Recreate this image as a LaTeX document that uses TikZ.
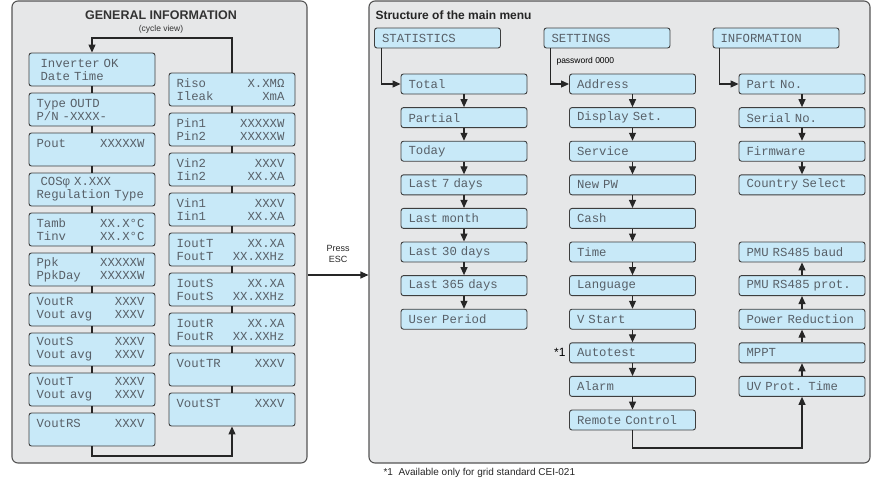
\documentclass[tikz,border=0pt]{standalone}
\usepackage{fontspec}
\setmainfont{Liberation Sans}
\setmonofont{Liberation Mono}
\usepackage {tikz}
\usetikzlibrary {positioning}
\usetikzlibrary{arrows.meta}
\definecolor{lcdblue}{RGB}{200,233,248}
\definecolor{lcdframe}{RGB}{62,62,62}
\definecolor{lcdtext}{RGB}{88,96,104}
\definecolor{panelgray}{RGB}{230,231,232}
\definecolor{panelframe}{RGB}{85,85,85}
\newcommand{\lcdfont}{\fontsize{12.3}{13}\selectfont\ttfamily}
\newcommand{\LR}[2]{\makebox[108pt][l]{#1\hfill#2}}
\tikzset{
    panel/.style = {rectangle,draw=panelframe,fill=panelgray,line width=1.1pt,rounded corners=6pt},
    lcd/.style = {rectangle,draw=lcdframe,fill=lcdblue,line width=0.9pt,rounded corners=2.5pt,
        minimum width=126pt,inner sep=0pt,text width=111pt,align=left,font=\lcdfont,text=lcdtext},
    display/.style = {lcd,minimum height=33pt},
    menuitem/.style = {lcd,minimum height=20pt},
    link/.style = {draw=black!85,line width=1.1pt},
    flow/.style = {link,-{Triangle[length=8pt,width=7pt]}}}
\begin{document}
\begin{tikzpicture}[x=1pt,y=-1pt]
        \useasboundingbox (0,0) rectangle (877,477);
        % panels
        \node[panel,minimum width=295pt,minimum height=462pt] (gen) at (159.5,232) {};
        \node[panel,minimum width=501pt,minimum height=462pt] (menu) at (619.5,232) {};
        \node[font=\fontsize{12.5}{14}\bfseries\selectfont,text=black!80] (gentitle) at (161,15) {GENERAL INFORMATION};
        \node[font=\fontsize{8.5}{10}\selectfont,text=black!80] (cycle) at (161,29) {(cycle view)};
        \node[font=\fontsize{12}{14}\bfseries\selectfont,text=black!85,anchor=west] (menutitle) at (372,15) {Structure of the main menu};
        % general information, cycle view
        \path (92,69.5) node[display] (L1) {~Inverter OK\\~Date Time}
        ++ (0,40) node[display] (L2) {Type OUTD\\P/N -XXXX-}
        ++ (0,40) node[display] (L3) {\LR{Pout}{XXXXXW}\\~}
        ++ (0,40) node[display] (L4) {~COSφ X.XXX\\Regulation Type}
        ++ (0,40) node[display] (L5) {\LR{Tamb}{XX.X°C}\\\LR{Tinv}{XX.X°C}}
        ++ (0,40) node[display] (L6) {\LR{Ppk}{XXXXXW}\\\LR{PpkDay}{XXXXXW}}
        ++ (0,40) node[display] (L7) {\LR{VoutR}{XXXV}\\\LR{Vout avg}{XXXV}}
        ++ (0,40) node[display] (L8) {\LR{VoutS}{XXXV}\\\LR{Vout avg}{XXXV}}
        ++ (0,40) node[display] (L9) {\LR{VoutT}{XXXV}\\\LR{Vout avg}{XXXV}}
        ++ (0,40) node[display] (L10) {\LR{VoutRS}{XXXV}\\~};
        \path (232,89.5) node[display] (R1) {\LR{Riso}{X.XMΩ}\\\LR{Ileak}{XmA}}
        ++ (0,40) node[display] (R2) {\LR{Pin1}{XXXXXW}\\\LR{Pin2}{XXXXXW}}
        ++ (0,40) node[display] (R3) {\LR{Vin2}{XXXV}\\\LR{Iin2}{XX.XA}}
        ++ (0,40) node[display] (R4) {\LR{Vin1}{XXXV}\\\LR{Iin1}{XX.XA}}
        ++ (0,40) node[display] (R5) {\LR{IoutT}{XX.XA}\\\LR{FoutT}{XX.XXHz}}
        ++ (0,40) node[display] (R6) {\LR{IoutS}{XX.XA}\\\LR{FoutS}{XX.XXHz}}
        ++ (0,40) node[display] (R7) {\LR{IoutR}{XX.XA}\\\LR{FoutR}{XX.XXHz}}
        ++ (0,40) node[display] (R8) {\LR{VoutTR}{XXXV}\\~}
        ++ (0,40) node[display] (R9) {\LR{VoutST}{XXXV}\\~};
        \draw[link] (L1) -- (L2) (L2) -- (L3) (L3) -- (L4) (L4) -- (L5) (L5) -- (L6)
            (L6) -- (L7) (L7) -- (L8) (L8) -- (L9) (L9) -- (L10);
        \draw[link] (R1) -- (R2) (R2) -- (R3) (R3) -- (R4) (R4) -- (R5) (R5) -- (R6)
            (R6) -- (R7) (R7) -- (R8) (R8) -- (R9);
        \coordinate (looptop) at (92,38);
        \coordinate (loopbot) at (92,456);
        \draw[flow] (R1.north) |- (looptop) -- (L1.north);
        \draw[flow] (L10.south) -- (loopbot) -| (R9.south);
        % press esc
        \coordinate (esc) at (338,275);
        \node[font=\fontsize{9}{11}\selectfont,align=center,text=black!85] (esclabel) at (338,254) {Press\\ESC};
        \draw[flow] (gen.east |- esc) -- (menu.west |- esc);
        % main menu headers
        \node[menuitem] (Stat) at (437.5,38) {STATISTICS};
        \node[menuitem] (Set) at (607,38) {SETTINGS};
        \node[menuitem] (Info) at (776,38) {INFORMATION};
        \node[font=\fontsize{8.5}{10}\selectfont,anchor=west] (pw) at (553,61) {password 0000};
        % statistics
        \path (464,84) node[menuitem] (S1) {Total}
        ++ (0,33.6) node[menuitem] (S2) {Partial}
        ++ (0,33.6) node[menuitem] (S3) {Today}
        ++ (0,33.6) node[menuitem] (S4) {Last 7 days}
        ++ (0,33.6) node[menuitem] (S5) {Last month}
        ++ (0,33.6) node[menuitem] (S6) {Last 30 days}
        ++ (0,33.6) node[menuitem] (S7) {Last 365 days}
        ++ (0,33.6) node[menuitem] (S8) {User Period};
        % settings
        \path (632.5,84) node[menuitem] (C1) {Address}
        ++ (0,33.6) node[menuitem] (C2) {Display Set.}
        ++ (0,33.6) node[menuitem] (C3) {Service}
        ++ (0,33.6) node[menuitem] (C4) {New PW}
        ++ (0,33.6) node[menuitem] (C5) {Cash}
        ++ (0,33.6) node[menuitem] (C6) {Time}
        ++ (0,33.6) node[menuitem] (C7) {Language}
        ++ (0,33.6) node[menuitem] (C8) {V Start}
        ++ (0,33.6) node[menuitem] (C9) {Autotest}
        ++ (0,33.6) node[menuitem] (C10) {Alarm}
        ++ (0,33.6) node[menuitem] (C11) {Remote Control};
        \node[font=\fontsize{12}{14}\selectfont,anchor=east] (note) at (C9.west) {*1};
        % information
        \path (802,84) node[menuitem] (I1) {Part No.}
        ++ (0,33.6) node[menuitem] (I2) {Serial No.}
        ++ (0,33.6) node[menuitem] (I3) {Firmware}
        ++ (0,33.6) node[menuitem] (I4) {Country Select}
        ++ (0,67.2) node[menuitem] (I5) {PMU RS485 baud}
        ++ (0,33.6) node[menuitem] (I6) {PMU RS485 prot.}
        ++ (0,33.6) node[menuitem] (I7) {Power Reduction}
        ++ (0,33.6) node[menuitem] (I8) {MPPT}
        ++ (0,33.6) node[menuitem] (I9) {UV Prot. Time};
        \draw[flow] ([xshift=7pt]Stat.south west) |- (S1);
        \draw[flow] ([xshift=7pt]Set.south west) |- (C1);
        \draw[flow] ([xshift=7pt]Info.south west) |- (I1);
        \path (S1) edge[flow] (S2) (S2) edge[flow] (S3) (S3) edge[flow] (S4) (S4) edge[flow] (S5)
            (S5) edge[flow] (S6) (S6) edge[flow] (S7) (S7) edge[flow] (S8);
        \path (C1) edge[flow] (C2) (C2) edge[flow] (C3) (C3) edge[flow] (C4) (C4) edge[flow] (C5)
            (C5) edge[flow] (C6) (C6) edge[flow] (C7) (C7) edge[flow] (C8) (C8) edge[flow] (C9)
            (C9) edge[flow] (C10) (C10) edge[flow] (C11);
        \path (I1) edge[flow] (I2) (I2) edge[flow] (I3) (I3) edge[flow] (I4);
        \path (I9) edge[flow] (I8) (I8) edge[flow] (I7) (I7) edge[flow] (I6) (I6) edge[flow] (I5);
        \coordinate (menubot) at (802,448);
        \draw[flow] (C11.south) |- (menubot) -- (I9.south);
        \node[font=\fontsize{10}{12}\selectfont,anchor=base west,text=black!85] (foot) at (380,475) {*1~~Available only for grid standard CEI-021};
\end{tikzpicture}
\end{document}
